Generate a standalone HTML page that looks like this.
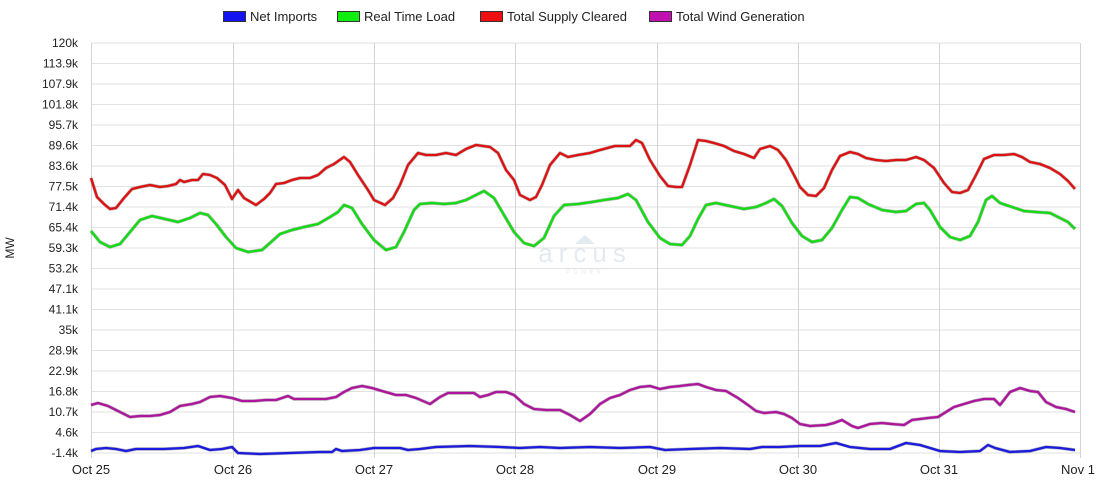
<!DOCTYPE html>
<html><head><style>
body{margin:0;background:#fff;}
svg{display:block;font-family:"Liberation Sans",Arial,sans-serif;}
</style></head><body>
<svg width="1100" height="500" viewBox="0 0 1100 500">
<g stroke="#e2e2e2" stroke-width="1">
<line x1="91" y1="43" x2="1080" y2="43"/><line x1="91" y1="63.5" x2="1080" y2="63.5"/><line x1="91" y1="84" x2="1080" y2="84"/><line x1="91" y1="104.5" x2="1080" y2="104.5"/><line x1="91" y1="125" x2="1080" y2="125"/><line x1="91" y1="145.5" x2="1080" y2="145.5"/><line x1="91" y1="166" x2="1080" y2="166"/><line x1="91" y1="186.5" x2="1080" y2="186.5"/><line x1="91" y1="207" x2="1080" y2="207"/><line x1="91" y1="227.5" x2="1080" y2="227.5"/><line x1="91" y1="248" x2="1080" y2="248"/><line x1="91" y1="268.5" x2="1080" y2="268.5"/><line x1="91" y1="289" x2="1080" y2="289"/><line x1="91" y1="309.5" x2="1080" y2="309.5"/><line x1="91" y1="330" x2="1080" y2="330"/><line x1="91" y1="350.5" x2="1080" y2="350.5"/><line x1="91" y1="371" x2="1080" y2="371"/><line x1="91" y1="391.5" x2="1080" y2="391.5"/><line x1="91" y1="412" x2="1080" y2="412"/><line x1="91" y1="432.5" x2="1080" y2="432.5"/><line x1="91" y1="453" x2="1080" y2="453"/>
</g>
<g stroke="#d4d4d4" stroke-width="1">
<line x1="91.5" y1="43" x2="91.5" y2="458"/><line x1="233.5" y1="43" x2="233.5" y2="458"/><line x1="374.5" y1="43" x2="374.5" y2="458"/><line x1="515.5" y1="43" x2="515.5" y2="458"/><line x1="657.5" y1="43" x2="657.5" y2="458"/><line x1="798.5" y1="43" x2="798.5" y2="458"/><line x1="939.5" y1="43" x2="939.5" y2="458"/><line x1="1080.5" y1="43" x2="1080.5" y2="458"/>
</g>
<g font-size="12" fill="#222" text-anchor="end">
<text x="78" y="47">120k</text><text x="78" y="67.5">113.9k</text><text x="78" y="88">107.9k</text><text x="78" y="108.5">101.8k</text><text x="78" y="129">95.7k</text><text x="78" y="149.5">89.6k</text><text x="78" y="170">83.6k</text><text x="78" y="190.5">77.5k</text><text x="78" y="211">71.4k</text><text x="78" y="231.5">65.4k</text><text x="78" y="252">59.3k</text><text x="78" y="272.5">53.2k</text><text x="78" y="293">47.1k</text><text x="78" y="313.5">41.1k</text><text x="78" y="334">35k</text><text x="78" y="354.5">28.9k</text><text x="78" y="375">22.9k</text><text x="78" y="395.5">16.8k</text><text x="78" y="416">10.7k</text><text x="78" y="436.5">4.6k</text><text x="78" y="457">-1.4k</text>
</g>
<g font-size="13" fill="#222" text-anchor="middle">
<text x="91" y="474">Oct 25</text><text x="233" y="474">Oct 26</text><text x="374" y="474">Oct 27</text><text x="515" y="474">Oct 28</text><text x="657" y="474">Oct 29</text><text x="798" y="474">Oct 30</text><text x="939" y="474">Oct 31</text><text x="1078" y="474">Nov 1</text>
</g>
<text x="14" y="248" font-size="12" fill="#222" text-anchor="middle" transform="rotate(-90 14 248)">MW</text>
<g opacity="0.2" fill="#7a9ab8">
<polygon points="585,235 575,244 595,244"/>
<text x="585" y="262" font-size="26" text-anchor="middle" letter-spacing="6">arcus</text>
<text x="585" y="274" font-size="6" text-anchor="middle" letter-spacing="3">POWER</text>
</g>
<defs>
<polyline id="r" points="91,178 97,197 104,204 110,209 116,208 124,198 132,189 140,187 150,185 160,187 168,186 176,184 180,180 184,182 192,180 198,180 203,174 210,175 217,178 225,185 232,199 238,190 244,198 256,205 264,199 270,193 276,184 284,183 292,180 300,178 310,178 318,175 326,168 334,164 344,157 350,162 358,175 368,190 374,200 385,205 393,198 400,185 408,165 418,153 426,155 436,155 446,153 456,155 466,149 476,145 490,147 498,153 506,170 514,180 520,195 530,200 536,197 542,185 550,165 560,153 568,157 578,155 590,153 600,150 615,146 630,146 636,140 642,143 650,160 660,176 668,186 676,187 682,187 690,165 698,140 706,141 714,143 724,146 734,151 744,154 754,158 760,149 770,146 778,150 786,160 794,175 800,187 808,195 816,196 824,188 832,170 840,156 850,152 858,154 866,158 876,160 886,161 896,160 906,160 916,157 924,160 934,168 944,183 952,192 960,193 968,190 976,175 984,159 994,155 1004,155 1014,154 1022,157 1030,162 1040,164 1050,168 1060,174 1068,181 1075,189"/>
<polyline id="g" points="91,231 100,242 110,247 120,244 130,232 140,220 152,216 165,219 178,222 190,218 200,213 208,215 216,224 226,237 236,248 248,252 262,250 270,243 280,234 292,230 304,227 318,224 330,217 338,212 344,205 352,208 362,224 374,240 386,250 396,247 404,232 414,210 420,204 432,203 444,204 456,203 466,200 476,195 484,191 494,198 504,215 514,232 524,243 534,246 544,238 554,216 564,205 578,204 592,202 604,200 618,198 628,194 636,200 648,222 660,238 670,244 682,245 690,236 698,219 706,205 716,203 730,206 744,209 756,207 766,203 774,199 782,206 792,223 802,236 812,242 822,240 832,228 842,210 850,197 858,198 868,204 882,210 896,212 906,211 916,204 924,203 930,210 940,227 950,237 960,240 970,236 978,222 986,200 992,196 1000,203 1012,207 1024,211 1036,212 1050,213 1060,218 1068,222 1075,229"/>
<polyline id="w" points="91,405 98,403 108,406 118,411 130,417 140,416 150,416 160,415 170,412 180,406 192,404 200,402 210,397 220,396 232,398 242,401 254,401 266,400 276,400 282,398 288,396 294,399 306,399 318,399 326,399 336,397 344,392 352,388 362,386 372,388 382,391 396,395 406,395 416,398 430,404 440,397 448,393 460,393 474,393 480,397 488,395 496,392 506,392 514,395 524,404 534,409 546,410 560,410 570,415 580,421 590,414 600,404 610,398 620,395 630,390 640,387 650,386 660,389 670,387 680,386 688,385 698,384 706,387 716,390 726,391 738,398 748,405 756,411 764,413 776,412 784,414 792,418 800,424 810,426 826,425 834,423 842,420 852,426 858,428 870,424 882,423 892,424 904,425 912,420 928,418 938,417 946,412 954,407 964,404 974,401 984,399 994,399 1000,405 1010,392 1020,388 1030,391 1038,392 1046,402 1056,407 1066,409 1075,412"/>
<polyline id="n" points="91,451 96,449 106,448 116,449 126,451 136,449 150,449 164,449 184,448 198,446 210,450 222,449 232,447 238,453 260,454 290,453 320,452 332,452 336,449 342,451 360,450 374,448 400,448 408,450 420,449 436,447 470,446 500,447 520,448 540,447 560,448 590,447 620,448 650,447 665,450 690,449 720,448 750,449 762,447 780,447 800,446 820,446 836,443 850,447 870,449 890,449 906,443 920,445 940,451 960,452 980,451 988,445 995,448 1010,452 1030,451 1046,447 1060,448 1075,450"/>
</defs>
<g fill="none" stroke-linejoin="round">
<use href="#r" stroke="#333" stroke-width="3.5" opacity="0.35"/>
<use href="#g" stroke="#333" stroke-width="3.5" opacity="0.35"/>
<use href="#w" stroke="#333" stroke-width="3.5" opacity="0.35"/>
<use href="#n" stroke="#333" stroke-width="3.5" opacity="0.35"/>
<use href="#r" stroke="#e01010" stroke-width="2.3"/>
<use href="#g" stroke="#10dd10" stroke-width="2.3"/>
<use href="#w" stroke="#b0149f" stroke-width="2.3"/>
<use href="#n" stroke="#1a1ae0" stroke-width="2.3"/>
</g>
<g font-size="13" fill="#222">
<rect x="223.5" y="11.5" width="22" height="10" fill="#1414f0" stroke="#333"/><text x="250" y="21">Net Imports</text>
<rect x="337.5" y="11.5" width="22" height="10" fill="#10ee10" stroke="#333"/><text x="364" y="21">Real Time Load</text>
<rect x="480.5" y="11.5" width="22" height="10" fill="#ee1010" stroke="#333"/><text x="507" y="21">Total Supply Cleared</text>
<rect x="649.5" y="11.5" width="22" height="10" fill="#c010b0" stroke="#333"/><text x="676" y="21">Total Wind Generation</text>
</g>
</svg>
</body></html>
